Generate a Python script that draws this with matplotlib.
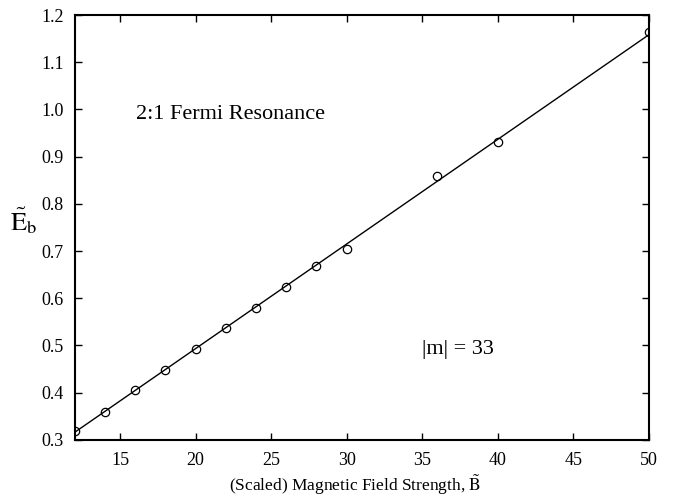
import numpy as np
import matplotlib
matplotlib.use("Agg")
import matplotlib.pyplot as plt

plt.rcParams['font.family'] = ['Liberation Serif', 'DejaVu Serif']
plt.rcParams['mathtext.fontset'] = 'stix'

# scaled field strength and binding energy
field = [12, 14, 16, 18, 20, 22, 24, 26, 28, 30, 36, 40, 50]
energy = [0.318, 0.360, 0.405, 0.449, 0.493, 0.536, 0.580, 0.624,
          0.669, 0.705, 0.858, 0.931, 1.163]

# straight line drawn through the points
fit_slope = 0.02216
fit_intercept = 0.0501

xticks = [15, 20, 25, 30, 35, 40, 45, 50]
yticks = [0.3, 0.4, 0.5, 0.6, 0.7, 0.8, 0.9, 1.0, 1.1, 1.2]

fig = plt.figure(figsize=(6.73, 5.01), dpi=100)
ax = fig.add_axes([0.111, 0.122, 0.853, 0.848])

xs = np.array([field[0], field[-1]])
ax.plot(xs, fit_intercept + fit_slope * xs, color='black', lw=1.0)
ax.plot(field, energy, 'o', mfc='none', mec='black', ms=6, mew=0.9)

ax.set_xlim(12, 50)
ax.set_ylim(0.3, 1.2)
ax.set_xticks(xticks)
ax.set_yticks(yticks)
ax.set_yticklabels([f"{v:.1f}" for v in yticks])
ax.tick_params(direction='in', top=True, right=True, length=5, width=1,
               labelsize=13)
ax.tick_params(axis='x', pad=9)
ax.tick_params(axis='y', pad=8)
for s in ax.spines.values():
    s.set_linewidth(1.5)

ax.text(16.05, 0.99, "2:1 Fermi Resonance", fontsize=16, va='center', ha='left')
ax.text(34.96, 0.492, "|m| = 33", fontsize=16, va='center', ha='left')

fig.text(0.528, 0.032, r"(Scaled) Magnetic Field Strength, $\tilde{\mathrm{B}}$",
         fontsize=12.5, ha='center', va='center')
fig.text(0.035, 0.56, r"$\tilde{\mathrm{E}}_\mathrm{b}$", fontsize=19,
         ha='center', va='center')

fig.savefig("out.png", dpi=100)
